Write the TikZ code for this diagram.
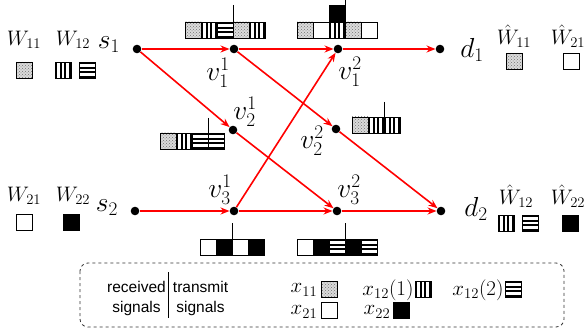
\RequirePackage{fix-cm}
\documentclass[tikz,border=0pt]{standalone}
\usepackage{fontspec}
\newfontfamily\lsans{Liberation Sans}
\usetikzlibrary{arrows.meta,patterns}

\tikzset{
  dot/.style={circle,fill=black,inner sep=0pt,minimum size=8.6pt},
  lab/.style={inner sep=0pt,font=\fontsize{27.5}{32}\selectfont},
  wlab/.style={inner sep=0pt,font=\fontsize{21}{25}\selectfont},
  leglab/.style={inner sep=0pt,font=\fontsize{21}{25}\selectfont},
  legtxt/.style={inner sep=0pt,align=center,font=\lsans\fontsize{15.5}{20}\selectfont},
  edge/.style={red,line width=1.6pt,-{Stealth[length=9pt,width=7pt]}},
  cellb/.style={black,line width=0.8pt},
  tick/.style={black,line width=0.7pt}
}

\newcommand\sgD[2]{%
  \fill[black!14] (#1,#2) rectangle ++(16,16);
  \fill[pattern=crosshatch dots,pattern color=black!55] (#1,#2) rectangle ++(16,16);
  \draw[cellb] (#1,#2) rectangle ++(16,16);}
\newcommand\sgV[2]{%
  \fill[white] (#1,#2) rectangle ++(16,16);
  \foreach \k in {0,4.6,9.2,13.8}{\fill ({#1+\k},#2) rectangle ++(2.2,16);}
  \draw[cellb] (#1,#2) rectangle ++(16,16);}
\newcommand\sgH[2]{%
  \fill[white] (#1,#2) rectangle ++(16,16);
  \foreach \k in {0,4.6,9.2,13.8}{\fill (#1,{#2+\k}) rectangle ++(16,2.2);}
  \draw[cellb] (#1,#2) rectangle ++(16,16);}
\newcommand\sgW[2]{\draw[cellb,fill=white] (#1,#2) rectangle ++(16,16);}
\newcommand\sgB[2]{\draw[cellb,fill=black] (#1,#2) rectangle ++(16,16);}

\begin{document}
\begin{tikzpicture}[x=1pt,y=-1pt]
\useasboundingbox (0,0) rectangle (585,331);

% nodes
\node[dot] (s1) at (137,49) {};
\node[dot] (v11) at (234,49) {};
\node[dot] (v12) at (338,49) {};
\node[dot] (d1) at (440,49) {};
\node[dot] (v21) at (233,130) {};
\node[dot] (v22) at (336,129) {};
\node[dot] (s2) at (135,211) {};
\node[dot] (v31) at (234,211) {};
\node[dot] (v32) at (337,211) {};
\node[dot] (d2) at (441,211) {};

% edges
\draw[edge] (s1) -- (v11);
\draw[edge] (v11) -- (v12);
\draw[edge] (v12) -- (d1);
\draw[edge] (s1) -- (v21);
\draw[edge] (v11) -- (v22);
\draw[edge] (v21) -- (v32);
\draw[edge] (v31) -- (v12);
\draw[edge] (v22) -- (d2);
\draw[edge] (s2) -- (v31);
\draw[edge] (v31) -- (v32);
\draw[edge] (v32) -- (d2);

% node labels
\node[lab] (ls1) at (109,45) {$s_1$};
\node[lab] (ls2) at (107,208) {$s_2$};
\node[lab] (lv11) at (218,73) {$v_1^1$};
\node[lab] (lv12) at (350,72) {$v_1^2$};
\node[lab] (lv21) at (245,112) {$v_2^1$};
\node[lab] (lv22) at (312,141) {$v_2^2$};
\node[lab] (lv31) at (220,190) {$v_3^1$};
\node[lab] (lv32) at (349,190) {$v_3^2$};
\node[lab] (ld1) at (472,50) {$d_1$};
\node[lab] (ld2) at (476,209) {$d_2$};

% message labels
\node[wlab] (w11) at (24,40) {$W_{11}$};
\node[wlab] (w12) at (73,40) {$W_{12}$};
\node[wlab] (w21) at (24,196) {$W_{21}$};
\node[wlab] (w22) at (73,196) {$W_{22}$};
\node[wlab] (hw11) at (514,36) {$\hat W_{11}$};
\node[wlab] (hw21) at (568,36) {$\hat W_{21}$};
\node[wlab] (hw12) at (516,196) {$\hat W_{12}$};
\node[wlab] (hw22) at (568,196) {$\hat W_{22}$};

% message boxes
\sgD{16}{62}
\sgV{55}{62} \sgH{79}{62}
\sgW{16}{214}
\sgB{63}{214}
\sgD{506}{53}
\sgW{563}{53}
\sgV{498}{215} \sgH{522}{215}
\sgB{562}{215}

% signal bars
% v1^1
\sgD{185}{22} \sgV{201}{22} \sgH{217}{22} \sgD{233}{22} \sgV{249}{22}
\draw[tick] (233,5) -- (233,22);
% v1^2
\sgD{297}{22} \sgW{313}{22} \sgV{329}{22} \sgD{345}{22} \sgW{361}{22}
\fill (329,5) rectangle (345,22);
\draw[tick] (345,0.5) -- (345,22);
% v2^1
\sgD{160}{133} \sgV{176}{133} \sgH{192}{133} \sgH{208}{133}
\draw[tick] (208,118) -- (208,133);
% v2^2
\sgD{352}{117} \sgV{368}{117} \sgV{384}{117}
\draw[tick] (384,102) -- (384,117);
% v3^1
\sgW{200}{239} \sgB{216}{239} \sgW{232}{239} \sgB{248}{239}
\draw[tick] (232,223) -- (232,239);
% v3^2
\sgW{297}{239} \sgB{313}{239} \sgH{329}{239} \sgB{345}{239} \sgH{361}{239}
\draw[tick] (345,223) -- (345,239);

% legend
\draw[dashed,black!80,line width=0.8pt,rounded corners=8pt] (80,263) rectangle (564,327);
\node[legtxt] (rec) at (136.5,298) {received\\signals};
\node[legtxt] (tra) at (200.5,298) {transmit\\signals};
\draw[tick] (168,272) -- (168,318);
\node[leglab] (x11) at (304,290) {$x_{11}$};
\sgD{321}{281}
\node[leglab] (x121) at (388,290) {$x_{12}(1)$};
\sgV{415}{281}
\node[leglab] (x122) at (478,290) {$x_{12}(2)$};
\sgH{505}{281}
\node[leglab] (x21) at (304,312) {$x_{21}$};
\sgW{321}{302}
\node[leglab] (x22) at (377,312) {$x_{22}$};
\sgB{393}{302}
\end{tikzpicture}
\end{document}
